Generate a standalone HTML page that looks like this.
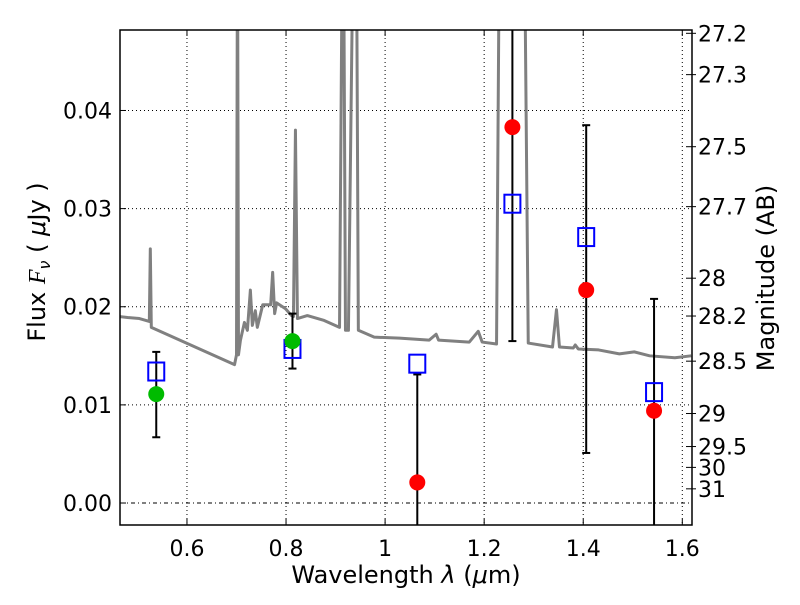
<!DOCTYPE html>
<html><head><meta charset="utf-8"><style>
body{margin:0;background:#fff}
svg text{font-family:"DejaVu Sans","Liberation Sans",sans-serif;fill:#000}
</style></head><body>
<svg id="c" width="800" height="600" xmlns="http://www.w3.org/2000/svg"></svg>
<script>
const specLambda=[0.4638,0.480,0.504,0.524,0.526,0.528,0.696,0.700,0.702,0.704,0.708,0.716,0.722,0.728,0.732,0.738,0.742,0.753,0.769,0.773,0.777,0.781,0.799,0.811,0.815,0.819,0.823,0.843,0.877,0.908,0.914,0.916,0.920,0.926,0.936,0.942,0.946,0.978,1.029,1.089,1.103,1.108,1.170,1.188,1.196,1.225,1.231,1.281,1.289,1.338,1.346,1.352,1.380,1.384,1.390,1.431,1.473,1.503,1.534,1.585,1.618];
const specFlux=[0.0190,0.0189,0.0188,0.0185,0.0259,0.0179,0.0141,0.0151,0.06,0.0151,0.0166,0.0184,0.0176,0.0217,0.0181,0.0196,0.0179,0.0202,0.0202,0.0235,0.0193,0.0204,0.0198,0.0191,0.0190,0.0380,0.0188,0.0191,0.0186,0.0179,0.06,0.06,0.0176,0.0176,0.06,0.06,0.0176,0.0169,0.0168,0.0166,0.0172,0.0166,0.0164,0.0175,0.0164,0.0162,0.06,0.06,0.0163,0.0159,0.0197,0.0159,0.0158,0.0161,0.0157,0.0156,0.0152,0.0154,0.0150,0.0148,0.0150];
const bandLambda=[0.538,0.813,1.065,1.257,1.406,1.543];
const modelFlux=[0.0134,0.0157,0.0142,0.0305,0.0271,0.0113];
const obsFlux=[0.0111,0.0165,0.0021,0.0383,0.0217,0.0094];
const obsColor=["#00bb00","#00bb00","red","red","red","red"];
const errHi=[0.0154,0.0193,0.0131,0.06,0.0385,0.0208];
const errLo=[0.0067,0.0137,-0.01,0.0165,0.0051,-0.01];
const xTicks=[0.6,0.8,1.0,1.2,1.4,1.6];
const xTickLabels=["0.6","0.8","1","1.2","1.4","1.6"];
const yTicks=[0,0.01,0.02,0.03,0.04];
const yTickLabels=["0.00","0.01","0.02","0.03","0.04"];
const magTicks=[27.2,27.3,27.5,27.7,28,28.2,28.5,29,29.5,30,31];

const L=120,R=692,T=30,B=525,xmin=0.4648,xmax=1.6196,ymin=-0.00224,ymax=0.0482;
const X=v=>L+(v-xmin)/(xmax-xmin)*(R-L);
const Y=v=>B-(v-ymin)/(ymax-ymin)*(B-T);
const svg=document.getElementById('c');
const NS="http://www.w3.org/2000/svg";
function mk(t,a,p){const e=document.createElementNS(NS,t);for(const k in a)e.setAttribute(k,a[k]);(p||svg).appendChild(e);return e;}
const cp=mk('clipPath',{id:'clip'});mk('rect',{x:L,y:T,width:R-L,height:B-T},cp);
xTicks.forEach((v,i)=>{const g=mk('line',{x1:X(v),x2:X(v),y1:T,y2:B,stroke:'#000','stroke-dasharray':'1,3','stroke-width':1});


mk('line',{x1:X(v),x2:X(v),y1:B,y2:B-6,stroke:'#000'});mk('line',{x1:X(v),x2:X(v),y1:T,y2:T+6,stroke:'#000'});
const t=mk('text',{x:X(v),y:B+31,'text-anchor':'middle','font-size':22});t.textContent=xTickLabels[i];

});
yTicks.forEach((v,i)=>{const g=mk('line',{x1:L,x2:R,y1:Y(v),y2:Y(v),stroke:'#000','stroke-dasharray':v===0?'4,3,1,3':'1,3','stroke-width':1});


mk('line',{x1:L,x2:L+6,y1:Y(v),y2:Y(v),stroke:'#000'});
const t=mk('text',{x:L-8,y:Y(v)+8,'text-anchor':'end','font-size':22});t.textContent=yTickLabels[i];

});
magTicks.forEach(m=>{const f=Math.pow(10,(23.9-m)/2.5);const y=Y(f);
mk('line',{x1:R-6,x2:R,y1:y,y2:y,stroke:'#000'});mk('line',{x1:R,x2:R+4,y1:y,y2:y,stroke:'#000'});
const t=mk('text',{x:R+6,y:y+8,'font-size':22});t.textContent=String(m);

});
const g=mk('g',{'clip-path':'url(#clip)'});
const sp=mk('polyline',{points:specLambda.map((l,i)=>X(l)+','+Y(specFlux[i])).join(' '),fill:'none',stroke:'#808080','stroke-width':3,'stroke-linejoin':'round'},g);


bandLambda.forEach((l,i)=>{const x=X(l);
const e=mk('line',{x1:x,x2:x,y1:Y(errHi[i]),y2:Y(errLo[i]),stroke:'#000','stroke-width':2},g);


[errHi[i],errLo[i]].forEach(v=>mk('line',{x1:x-4,x2:x+4,y1:Y(v),y2:Y(v),stroke:'#000','stroke-width':2},g));
const s=mk('rect',{x:x-8,y:Y(modelFlux[i])-9,width:16,height:18,fill:'none',stroke:'#0000ff','stroke-width':2},g);


const c=mk('circle',{cx:x,cy:Y(obsFlux[i]),r:8,fill:obsColor[i]},g);

});
const fr=mk('rect',{x:L,y:T,width:R-L,height:B-T,fill:'none',stroke:'#000','stroke-width':1.5});


const xl=mk('text',{x:406,y:583,'text-anchor':'middle','font-size':24});
xl.setAttribute('xml:space','preserve');
xl.innerHTML='Wavelength  <tspan font-style="italic">λ</tspan> (<tspan font-style="italic">μ</tspan>m)';


const yl=mk('text',{x:0,y:0,'text-anchor':'middle','font-size':24,transform:'translate(45,262) rotate(-90)'});
yl.setAttribute('xml:space','preserve');
yl.innerHTML='Flux  <tspan font-style="italic" font-family="Liberation Serif">F</tspan><tspan font-style="italic" font-size="16" dy="5">ν</tspan><tspan dy="-5">  (  </tspan><tspan font-style="italic">μ</tspan>Jy )';


const rl=mk('text',{x:0,y:0,'text-anchor':'middle','font-size':24,transform:'translate(774,278) rotate(-90)'});rl.textContent='Magnitude (AB)';


</script>
</body></html>
